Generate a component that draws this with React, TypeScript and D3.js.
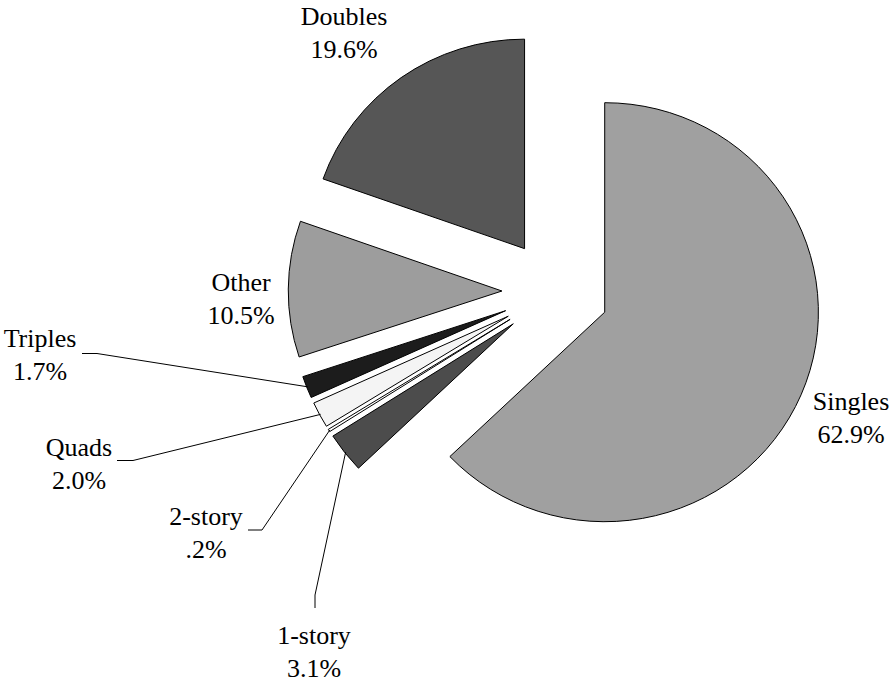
import React from "react";
import * as d3 from "d3";

const categories = ["Singles", "1-story", "2-story", "Quads", "Triples", "Other", "Doubles"];
const values = [62.9, 3.1, 0.2, 2.0, 1.7, 10.5, 19.6];
const valueLabels = ["62.9%", "3.1%", ".2%", "2.0%", "1.7%", "10.5%", "19.6%"];
const fills = ["#a0a0a0", "#4c4c4c", "#ffffff", "#f4f4f4", "#1c1c1c", "#9d9d9d", "#565656"];

// annotation layout (text centre x, first baseline y, optional leader elbow)
const labelLayout: Record<string, { x: number; y: number; leader?: [number, number][] }> = {
  Singles: { x: 851, y: 410 },
  Doubles: { x: 344, y: 25 },
  Other: { x: 241, y: 291 },
  Triples: { x: 40, y: 347, leader: [[82, 353.5], [97, 353.5]] },
  Quads: { x: 79, y: 456, leader: [[117, 460.5], [133, 460.5]] },
  "2-story": { x: 206, y: 525, leader: [[248, 530], [262, 530]] },
  "1-story": { x: 314, y: 644, leader: [[315, 608], [315, 595]] },
};

const W = 892;
const H = 687;
const cx = 555.5;
const cy = 291.5;
const sx = 1.02;
const radius = 209.5;
const explode = 52.5;
const lineGap = 33;

export default function App() {
  const pie = d3
    .pie<number>()
    .sort(null)
    .value((d) => d)
    .startAngle(0)
    .endAngle(2 * Math.PI);
  const arcs = pie(values);
  const arc = d3.arc<d3.PieArcDatum<number>>().innerRadius(0).outerRadius(radius);

  return (
    <svg
      width={W}
      height={H}
      style={{ position: "absolute", left: 0, top: 0, background: "#fff" }}
      fontFamily="'Liberation Serif', 'Times New Roman', serif"
      fontSize={26}
    >
      <rect width={W} height={H} fill="#fff" />
      <g transform={`translate(${cx},${cy}) scale(${sx},1)`}>
        {arcs.map((a, i) => {
          const mid = (a.startAngle + a.endAngle) / 2;
          const ox = explode * Math.sin(mid);
          const oy = -explode * Math.cos(mid);
          return (
            <path
              key={categories[i]}
              d={arc(a) || ""}
              transform={`translate(${ox},${oy})`}
              fill={fills[i]}
              stroke="#000"
              strokeWidth={1}
              vectorEffect="non-scaling-stroke"
              strokeLinejoin="miter"
            />
          );
        })}
      </g>
      {arcs.map((a, i) => {
        const name = categories[i];
        const lay = labelLayout[name];
        const mid = (a.startAngle + a.endAngle) / 2;
        const R = radius + explode - 1;
        const ex = cx + sx * R * Math.sin(mid);
        const ey = cy - R * Math.cos(mid);
        let leader = null;
        if (lay.leader) {
          const pts = [...lay.leader, [ex, ey]] as [number, number][];
          leader = (
            <path
              d={d3.line()(pts) || ""}
              fill="none"
              stroke="#000"
              strokeWidth={1}
            />
          );
        }
        return (
          <g key={name}>
            {leader}
            <text x={lay.x} y={lay.y} textAnchor="middle" fill="#000">
              {name}
            </text>
            <text x={lay.x} y={lay.y + lineGap} textAnchor="middle" fill="#000">
              {valueLabels[i]}
            </text>
          </g>
        );
      })}
    </svg>
  );
}
